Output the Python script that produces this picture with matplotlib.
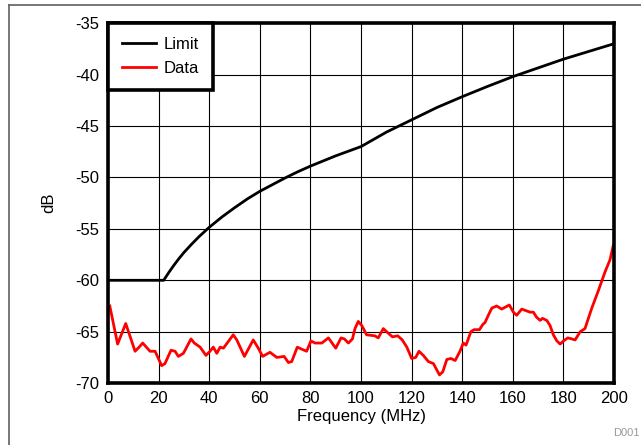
import matplotlib
matplotlib.use("Agg")
import matplotlib.pyplot as plt
from matplotlib.lines import Line2D

plt.rcParams['font.family'] = ['Liberation Sans', 'DejaVu Sans']
plt.rcParams['axes.unicode_minus'] = False

# limit curve
limit_f = [0, 22, 24, 26, 28, 30, 33, 36, 40, 45, 50, 55, 60, 65, 70, 75, 80, 85, 90, 95,
           100, 110, 120, 130, 140, 150, 160, 170, 180, 190, 200]
limit_db = [-60, -60, -59.25, -58.55, -57.9, -57.3, -56.5, -55.75, -54.85, -53.85,
            -52.95, -52.1, -51.35, -50.7, -50.05, -49.45, -48.9, -48.4, -47.9, -47.45,
            -47.0, -45.6, -44.4, -43.2, -42.15, -41.15, -40.2, -39.35, -38.5, -37.75,
            -37.0]

data_f = [0.7, 3.8, 7.0, 10.7, 12.3, 13.7, 16.6, 18.6, 21.2, 22.5, 24.9, 26.5, 27.8,
          29.8, 32.8, 34.1, 36.4, 38.7, 40.3, 41.6, 43.0, 44.3, 45.6, 46.5, 49.5, 50.9,
          53.9, 57.4, 59.4, 61.1, 64.0, 66.7, 69.6, 71.3, 72.6, 74.8, 76.6, 78.5, 80.2,
          81.8, 84.5, 87.1, 90.0, 92.1, 93.4, 95.0, 96.6, 97.6, 98.9, 100.3, 102.2,
          105.5, 106.8, 108.8, 110.1, 112.4, 114.5, 116.3, 118.1, 120.0, 121.6, 122.9,
          124.6, 126.6, 128.6, 131.0, 132.3, 133.9, 135.5, 137.2, 139.1, 140.4, 141.5,
          143.4, 144.7, 146.8, 148.1, 149.0, 150.3, 151.7, 153.6, 155.6, 158.6, 160.2,
          161.5, 163.5, 166.8, 168.1, 169.4, 170.8, 171.7, 173.4, 174.7, 176.0, 177.4,
          178.7, 180.0, 181.7, 183.3, 184.6, 186.6, 188.5, 191.2, 193.8, 196.4, 198.4,
          199.7]
data_db = [-62.5, -66.2, -64.2, -66.9, -66.5, -66.1, -66.9, -66.9, -68.3, -68.1, -66.8,
           -66.9, -67.4, -67.1, -65.7, -66.1, -66.5, -67.3, -66.9, -66.5, -67.1, -66.5,
           -66.6, -66.3, -65.3, -65.8, -67.4, -65.8, -66.6, -67.4, -67.0, -67.5, -67.4,
           -68.0, -67.9, -66.5, -66.7, -66.9, -65.9, -66.1, -66.1, -65.6, -66.6, -65.6,
           -65.7, -66.1, -65.7, -64.7, -64.0, -64.4, -65.3, -65.4, -65.6, -64.7, -65.0,
           -65.5, -65.4, -65.8, -66.5, -67.6, -67.5, -66.9, -67.3, -67.9, -68.1, -69.2,
           -68.9, -67.7, -67.6, -67.8, -66.9, -66.1, -66.3, -65.0, -64.8, -64.8, -64.3,
           -64.1, -63.4, -62.7, -62.5, -62.8, -62.4, -63.1, -63.4, -62.8, -63.1, -63.1,
           -63.6, -63.9, -63.7, -63.9, -64.4, -65.3, -65.9, -66.2, -65.9, -65.6, -65.7,
           -65.8, -65.0, -64.7, -62.7, -61.0, -59.2, -58.0, -56.6]

x_ticks = [0, 20, 40, 60, 80, 100, 120, 140, 160, 180, 200]
y_ticks = [-35, -40, -45, -50, -55, -60, -65, -70]

fig = plt.figure(figsize=(6.41, 4.45), dpi=100)
ax = fig.add_axes([0.1685, 0.139, 0.7895, 0.809])

ax.plot(limit_f, limit_db, color='black', lw=2.0, label='Limit')
ax.plot(data_f, data_db, color='red', lw=2.0, label='Data')

ax.set_xlim(0, 200)
ax.set_ylim(-70, -35)
ax.set_xticks(x_ticks)
ax.set_yticks(y_ticks)
ax.grid(True, color='black', lw=0.8)
ax.set_axisbelow(True)
ax.tick_params(length=0, pad=6, labelsize=12)
for s in ax.spines.values():
    s.set_linewidth(2.6)

ax.set_xlabel('Frequency (MHz)', fontsize=12, labelpad=2)
ax.set_ylabel('dB', fontsize=12, labelpad=14)

leg = ax.legend(loc='upper left', borderaxespad=0, fancybox=False, framealpha=1,
                edgecolor='black', fontsize=12, handlelength=2.0, handletextpad=0.5,
                borderpad=0.85, labelspacing=0.5)
leg.get_frame().set_linewidth(2.6)

# outer frame of the figure (cut off at right and bottom)
fig.add_artist(Line2D([9 / 641, 1], [1 - 5 / 445, 1 - 5 / 445], color='#606060', lw=1.2))
fig.add_artist(Line2D([9 / 641, 9 / 641], [0, 1 - 5 / 445], color='#606060', lw=1.2))

fig.text(0.998, 0.015, 'D001', color='#999999', fontsize=8, ha='right', va='bottom')

fig.savefig('out.png', dpi=100)
